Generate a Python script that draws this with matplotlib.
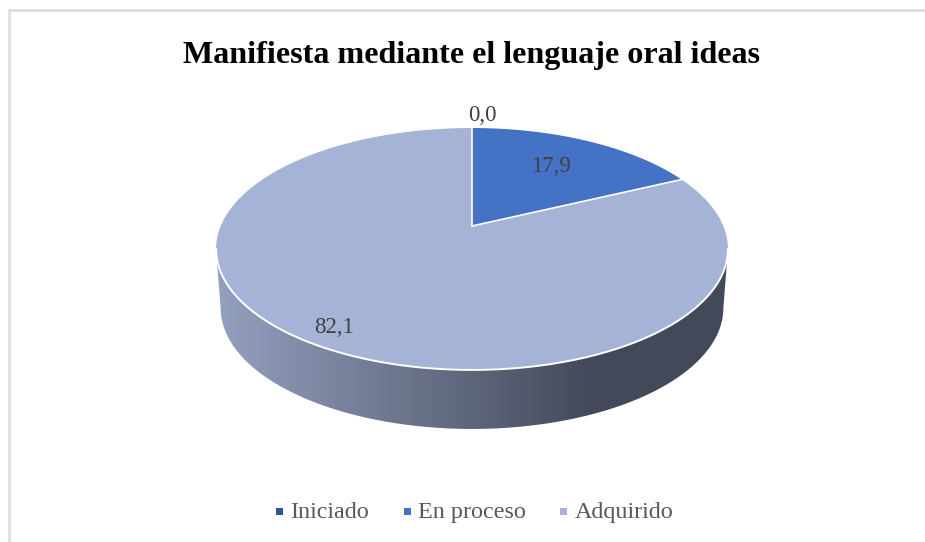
#!/usr/bin/env python3
"""Perspective pie chart, Excel style, drawn with plain matplotlib patches."""
import matplotlib
matplotlib.use("Agg")
import matplotlib.pyplot as plt
import numpy as np
from matplotlib.patches import Polygon, Rectangle

plt.rcParams["font.family"] = ["Liberation Serif", "DejaVu Serif"]

TITLE = "Manifiesta mediante el lenguaje oral ideas"
CATEGORIES = ["Iniciado", "En proceso", "Adquirido"]
VALUES = [0.0, 17.9, 82.1]
COLORS = ["#2f5597", "#4472c4", "#a5b4d6"]

W, H = 925, 542
CX, CY = 472, 226      # apex of the pie on screen
A, B, K = 116.6, 251.3, 0.19   # perspective of the disc
DEPTH = 59


def project(theta, scale=1.0, drop=0.0):
    # theta is clockwise from the top of the pie, in radians
    u, v = np.sin(theta), np.cos(theta)
    d = 1 + K * v
    return CX + scale * B * u / d, CY - A * v / d + drop


def rim(t0, t1, scale=1.0, drop=0.0, n=200):
    x, y = project(np.linspace(t0, t1, n), scale, drop)
    return np.column_stack([x, y])


fig = plt.figure(figsize=(W / 100, H / 100), dpi=100)
ax = fig.add_axes([0, 0, 1, 1])
ax.set_xlim(0, W)
ax.set_ylim(H, 0)
ax.axis("off")

# chart frame, only the top and left sides show in the crop
ax.plot([8.5, 8.5, W], [H, 9.5, 9.5], color="#dcdcdc", lw=1.8, solid_joinstyle="miter")

# side wall with a horizontal gradient, clipped to the front half of the disc
# both rims are widest where cos(theta) = -K
start, end = np.pi - np.arccos(K), np.pi + np.arccos(K)
wall = np.vstack([rim(start, end), rim(start, end, 0.982, DEPTH)[::-1]])
wall_patch = Polygon(wall, closed=True, fc="none", ec="none")
ax.add_patch(wall_patch)
ramp = np.clip(np.linspace(0, 1, 256) / 0.74, 0, 1)
left, right = np.array([0x94, 0xa0, 0xbf]), np.array([0x43, 0x49, 0x59])
grad = (left + (right - left) * ramp[:, None])[None, :, :] / 255
img = ax.imshow(grad, extent=[216, 728, 440, 240], aspect="auto", zorder=1)
img.set_clip_path(wall_patch)
ax.set_xlim(0, W)
ax.set_ylim(H, 0)

# top of the pie, one wedge per value
angles = 2 * np.pi * np.cumsum([0] + VALUES) / sum(VALUES)
for i, val in enumerate(VALUES):
    if val == 0:
        continue
    pts = np.vstack([[CX, CY], rim(angles[i], angles[i + 1])])
    ax.add_patch(Polygon(pts, closed=True, fc=COLORS[i], ec="none", zorder=2))
    ax.plot([CX, pts[1, 0]], [CY, pts[1, 1]], color="white", lw=1.2, zorder=2.5)

# white line along the front of the disc
front = rim(start, end)
ax.plot(front[:, 0], front[:, 1], color="white", lw=1.4, zorder=2.5)

# data labels
label_pos = [(482, 121), (551, 172), (334, 333)]
for val, (x, y) in zip(VALUES, label_pos):
    ax.text(x, y, f"{val:.1f}".replace(".", ","), ha="center", va="baseline",
            fontsize=16.5, color="#404040", zorder=3)

ax.text(471.5, 63, TITLE, ha="center", va="baseline", fontsize=23.1, fontweight="bold",
        color="black")

# legend
legend_x = [(279.5, 290.5), (407.5, 418.5), (563.5, 575)]
for name, col, (mx, tx) in zip(CATEGORIES, COLORS, legend_x):
    ax.add_patch(Rectangle((mx - 3.5, 507.5), 7, 7, fc=col, ec="none"))
    ax.text(tx, 518, name, ha="left", va="baseline", fontsize=17.4, color="#595959")

fig.savefig("out.png", dpi=100)
print("wrote out.png")
